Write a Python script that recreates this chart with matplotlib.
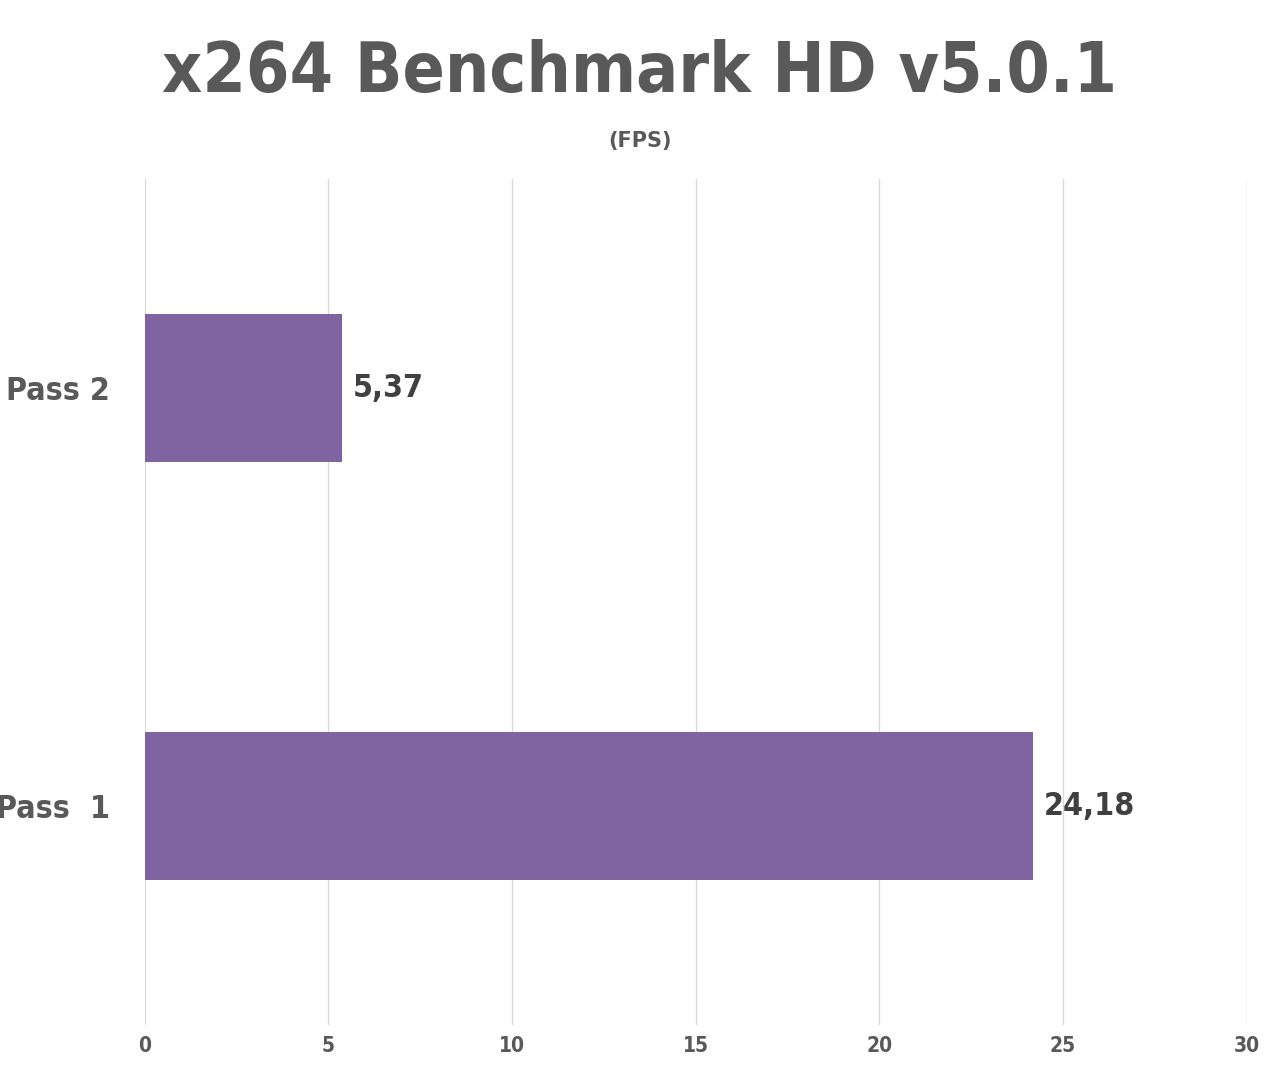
import matplotlib
matplotlib.use("Agg")
import matplotlib.pyplot as plt

categories = ["Pass  1", "Pass 2"]
values = [24.18, 5.37]
value_labels = ["24,18", "5,37"]
xticks = [0, 5, 10, 15, 20, 25, 30]

fig = plt.figure(figsize=(12.8, 10.69), dpi=100)
ax = fig.add_axes([0.113, 0.041, 0.861, 0.792])
ypos = list(range(len(categories)))
ax.barh(ypos, values, height=0.354, color="#8064A2", zorder=3)
ax.set_xlim(0, 30)
ax.set_ylim(-0.524, 1.502)
ax.set_xticks(xticks)
ax.set_xticklabels([str(t) for t in xticks], fontsize=15, fontweight="bold",
                   color="#595959", fontstretch="condensed")
ax.set_yticks(ypos)
ax.set_yticklabels(categories, fontsize=23, fontweight="bold", color="#595959",
                   fontstretch="condensed")
ax.tick_params(axis="both", length=0)
ax.tick_params(axis="y", pad=25)
ax.tick_params(axis="x", pad=8)
ax.grid(axis="x", color="#d9d9d9", linewidth=1, zorder=0)
for s in ax.spines.values():
    s.set_visible(False)
for y, v, lab in zip(ypos, values, value_labels):
    ax.text(v + 0.3, y, lab, va="center", ha="left", fontsize=23, fontweight="bold",
            color="#404040", fontstretch="condensed")
fig.text(0.5, 0.932, "x264 Benchmark HD v5.0.1", ha="center", va="center",
         fontsize=50, fontweight="bold", color="#595959", fontstretch="condensed")
fig.text(0.5, 0.868, "(FPS)", ha="center", va="center", fontsize=15,
         fontweight="bold", color="#595959")
fig.savefig("out.png", dpi=100)
